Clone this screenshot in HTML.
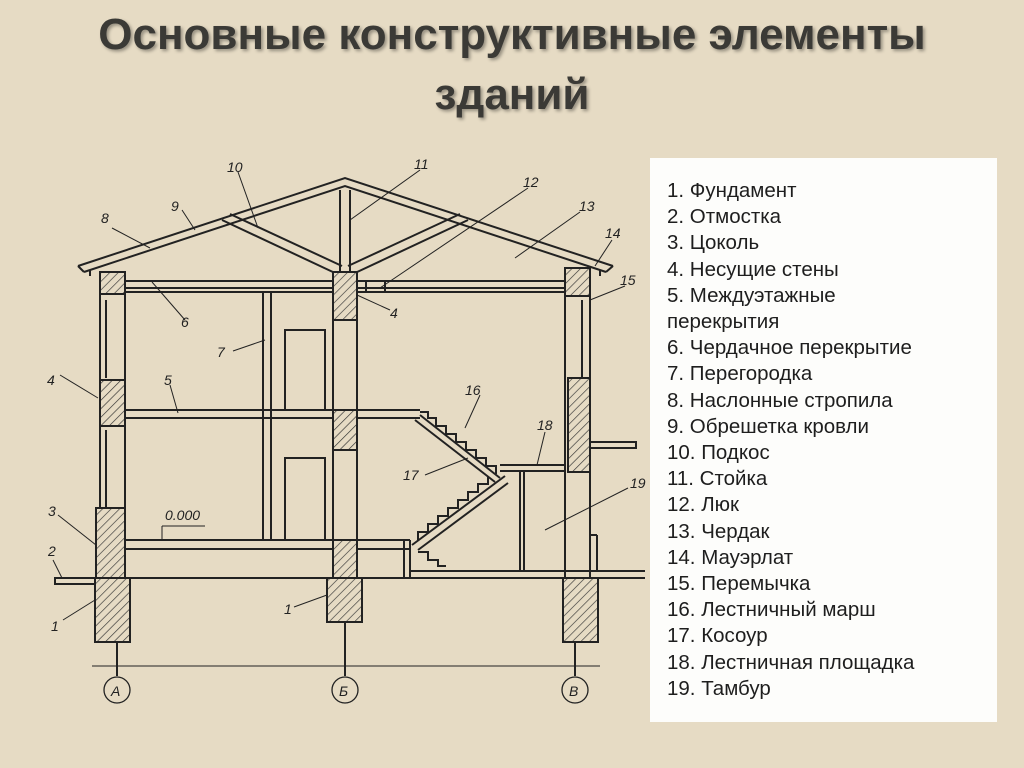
<!DOCTYPE html>
<html><head><meta charset="utf-8"><style>
html,body{margin:0;padding:0;width:1024px;height:768px;overflow:hidden;background:#e6dbc4;}
.t{position:absolute;left:0;width:1024px;text-align:center;font-family:"Liberation Sans","DejaVu Sans",sans-serif;font-weight:bold;font-size:44px;line-height:50px;color:#3b3a36;text-shadow:2px 2px 3px rgba(0,0,0,0.35);}
.panel{position:absolute;left:650px;top:158px;width:347px;height:564px;background:#fdfdfb;}
.list{position:absolute;left:667px;top:178px;font-family:"Liberation Sans","DejaVu Sans",sans-serif;font-size:20.5px;line-height:26.2px;color:#1e1e1e;}
svg{position:absolute;left:0;top:0}
</style></head><body>
<div class="t" style="top:10px">Основные конструктивные элементы</div>
<div class="t" style="top:70px">зданий</div>
<div class="panel"></div>
<div class="list">
1. Фундамент<br>2. Отмостка<br>3. Цоколь<br>4. Несущие стены<br>5. Междуэтажные<br>перекрытия<br>6. Чердачное перекрытие<br>7. Перегородка<br>8. Наслонные стропила<br>9. Обрешетка кровли<br>10. Подкос<br>11. Стойка<br>12. Люк<br>13. Чердак<br>14. Мауэрлат<br>15. Перемычка<br>16. Лестничный марш<br>17. Косоур<br>18. Лестничная площадка<br>19. Тамбур
</div>
<svg width="1024" height="768" viewBox="0 0 1024 768">
<defs>
<pattern id="h" width="6" height="6" patternUnits="userSpaceOnUse" patternTransform="rotate(45)">
<rect width="6" height="6" fill="#e6dbc4"/><line x1="0" y1="0" x2="0" y2="6" stroke="#333" stroke-width="1.3"/></pattern>
</defs>
<g stroke="#222" stroke-width="2" fill="none">
<polyline points="78,266 345,178 613,266"/>
<polyline points="84,272 345,186 606,272"/>
<line x1="78" y1="266" x2="84" y2="272"/><line x1="613" y1="266" x2="606" y2="272"/>
<line x1="90" y1="270" x2="90" y2="276"/><line x1="600" y1="270" x2="600" y2="276"/>
<line x1="340" y1="190" x2="340" y2="275"/><line x1="350" y1="190" x2="350" y2="275"/>
<line x1="222" y1="220" x2="335" y2="273"/><line x1="230" y1="214" x2="342" y2="266"/>
<line x1="468" y1="220" x2="355" y2="273"/><line x1="460" y1="214" x2="348" y2="266"/>
<line x1="120" y1="281" x2="570" y2="281"/><line x1="120" y1="288" x2="570" y2="288"/><line x1="120" y1="292" x2="570" y2="292"/>
<line x1="340" y1="283" x2="340" y2="292"/><line x1="366" y1="280" x2="366" y2="292"/><line x1="385" y1="280" x2="385" y2="292"/>
<rect x="100" y="272" width="25" height="306"/>
<line x1="106" y1="300" x2="106" y2="378"/><line x1="106" y1="430" x2="106" y2="508"/>
<rect x="333" y="272" width="24" height="306"/>
<rect x="565" y="268" width="25" height="310"/>
<line x1="582" y1="300" x2="582" y2="378"/>
<line x1="125" y1="410" x2="420" y2="410"/><line x1="125" y1="418" x2="420" y2="418"/>
<line x1="125" y1="540" x2="410" y2="540"/><line x1="125" y1="549" x2="410" y2="549"/>
<line x1="263" y1="292" x2="263" y2="540"/><line x1="271" y1="292" x2="271" y2="540"/>
<rect x="285" y="330" width="40" height="80"/><rect x="285" y="458" width="40" height="82"/>
<line x1="95" y1="578" x2="645" y2="578"/>
<line x1="410" y1="571" x2="645" y2="571"/>
<line x1="410" y1="540" x2="410" y2="578"/><line x1="404" y1="540" x2="404" y2="578"/>
<line x1="420" y1="415" x2="500" y2="478"/><line x1="415" y1="420" x2="495" y2="482"/>
<polyline points="420,412 428,412 428,418 436,418 436,426 446,426 446,434 456,434 456,442 466,442 466,450 476,450 476,458 486,458 486,466 496,466 496,474"/>
<line x1="412" y1="545" x2="505" y2="476"/><line x1="418" y1="550" x2="508" y2="483"/>
<polyline points="418,540 418,532 428,532 428,524 438,524 438,516 448,516 448,508 458,508 458,500 468,500 468,492 478,492 478,484 488,484 488,476"/>
<polyline points="418,552 428,552 428,560 438,560 438,566 446,566"/>
<line x1="500" y1="465" x2="565" y2="465"/><line x1="500" y1="471" x2="565" y2="471"/>
<line x1="520" y1="471" x2="520" y2="571"/><line x1="524" y1="471" x2="524" y2="571"/>
<rect x="590" y="442" width="46" height="6"/>
<line x1="590" y1="535" x2="597" y2="535"/><line x1="597" y1="535" x2="597" y2="571"/>
<polyline points="95,578 55,578 55,584 95,584"/>
<line x1="117" y1="578" x2="117" y2="676"/><line x1="345" y1="578" x2="345" y2="676"/><line x1="575" y1="578" x2="575" y2="676"/>
<line x1="92" y1="666" x2="600" y2="666" stroke-width="1"/>
<circle cx="117" cy="690" r="13" stroke-width="1.3"/><circle cx="345" cy="690" r="13" stroke-width="1.3"/><circle cx="575" cy="690" r="13" stroke-width="1.3"/>
</g>
<g stroke="#222" stroke-width="2" fill="url(#h)">
<rect x="100" y="272" width="25" height="22"/><rect x="100" y="380" width="25" height="46"/><rect x="96" y="508" width="29" height="70"/>
<rect x="95" y="578" width="35" height="64"/>
<rect x="333" y="272" width="24" height="48"/><rect x="333" y="410" width="24" height="40"/><rect x="333" y="540" width="24" height="38"/>
<rect x="327" y="578" width="35" height="44"/>
<rect x="565" y="268" width="25" height="28"/><rect x="568" y="378" width="22" height="94"/>
<rect x="563" y="578" width="35" height="64"/>
</g>
<g stroke="#222" stroke-width="1" fill="none">
<line x1="112" y1="228" x2="150" y2="248"/><line x1="182" y1="210" x2="195" y2="230"/><line x1="238" y1="172" x2="258" y2="228"/>
<line x1="420" y1="170" x2="350" y2="220"/><line x1="528" y1="188" x2="380" y2="288"/><line x1="580" y1="212" x2="515" y2="258"/>
<line x1="612" y1="240" x2="595" y2="266"/><line x1="625" y1="286" x2="590" y2="300"/>
<line x1="185" y1="320" x2="152" y2="282"/><line x1="357" y1="295" x2="390" y2="310"/>
<line x1="233" y1="351" x2="265" y2="340"/><line x1="170" y1="385" x2="178" y2="413"/>
<line x1="60" y1="375" x2="98" y2="398"/><line x1="480" y1="395" x2="465" y2="428"/>
<line x1="425" y1="475" x2="468" y2="458"/><line x1="545" y1="432" x2="537" y2="465"/>
<line x1="628" y1="488" x2="545" y2="530"/>
<line x1="58" y1="515" x2="96" y2="545"/><line x1="53" y1="560" x2="62" y2="578"/>
<line x1="63" y1="620" x2="95" y2="600"/><line x1="294" y1="607" x2="327" y2="595"/>
<line x1="162" y1="526" x2="205" y2="526"/><line x1="162" y1="526" x2="162" y2="540"/>
</g>
<g font-family="Liberation Sans, sans-serif" font-style="italic" font-size="14" fill="#222">
<text x="101" y="223">8</text><text x="171" y="211">9</text><text x="227" y="172">10</text><text x="414" y="169">11</text>
<text x="523" y="187">12</text><text x="579" y="211">13</text><text x="605" y="238">14</text><text x="620" y="285">15</text>
<text x="181" y="327">6</text><text x="390" y="318">4</text><text x="217" y="357">7</text><text x="164" y="385">5</text>
<text x="47" y="385">4</text><text x="465" y="395">16</text><text x="403" y="480">17</text><text x="537" y="430">18</text>
<text x="630" y="488">19</text><text x="48" y="516">3</text><text x="48" y="556">2</text><text x="51" y="631">1</text>
<text x="284" y="614">1</text><text x="165" y="520">0.000</text>
<text x="111" y="696">A</text><text x="339" y="696">Б</text><text x="569" y="696">B</text>
</g>
</svg>
</body></html>
